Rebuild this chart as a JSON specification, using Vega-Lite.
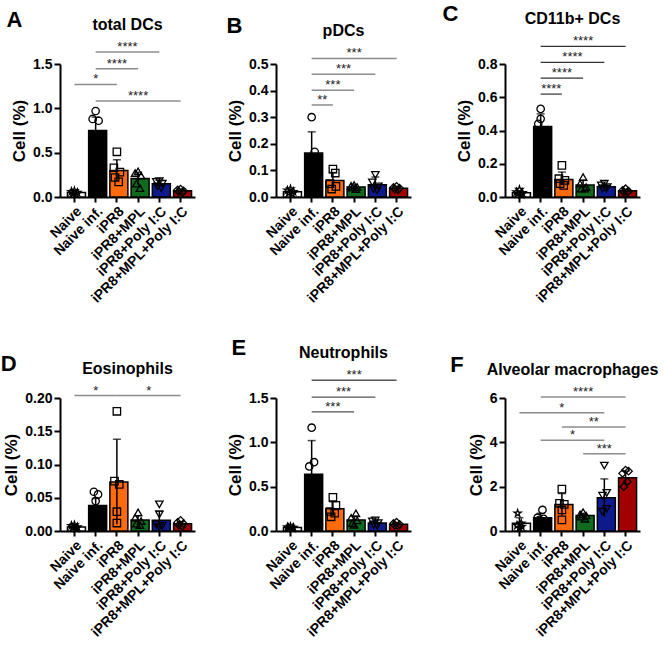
{
"$schema": "https://vega.github.io/schema/vega-lite/v6.json",
"padding": {"left": 0, "top": 3, "right": 0, "bottom": 0},
"background": "white",
"datasets": {
"bars": [
{"p":"A","g":"Naive","mean":0.05,"lo":0.03,"hi":0.07},
{"p":"A","g":"Naive inf.","mean":0.75,"lo":0.58,"hi":0.9},
{"p":"A","g":"iPR8","mean":0.30,"lo":0.18,"hi":0.42},
{"p":"A","g":"iPR8+MPL","mean":0.21,"lo":0.14,"hi":0.28},
{"p":"A","g":"iPR8+Poly I:C","mean":0.15,"lo":0.11,"hi":0.19},
{"p":"A","g":"iPR8+MPL+Poly I:C","mean":0.07,"lo":0.055,"hi":0.085},
{"p":"B","g":"Naive","mean":0.02,"lo":0.012,"hi":0.028},
{"p":"B","g":"Naive inf.","mean":0.165,"lo":0.085,"hi":0.245},
{"p":"B","g":"iPR8","mean":0.062,"lo":0.035,"hi":0.092},
{"p":"B","g":"iPR8+MPL","mean":0.038,"lo":0.03,"hi":0.046},
{"p":"B","g":"iPR8+Poly I:C","mean":0.046,"lo":0.022,"hi":0.075},
{"p":"B","g":"iPR8+MPL+Poly I:C","mean":0.033,"lo":0.027,"hi":0.039},
{"p":"C","g":"Naive","mean":0.025,"lo":0.015,"hi":0.035},
{"p":"C","g":"Naive inf.","mean":0.424,"lo":0.34,"hi":0.50},
{"p":"C","g":"iPR8","mean":0.105,"lo":0.07,"hi":0.15},
{"p":"C","g":"iPR8+MPL","mean":0.072,"lo":0.045,"hi":0.10},
{"p":"C","g":"iPR8+Poly I:C","mean":0.062,"lo":0.05,"hi":0.075},
{"p":"C","g":"iPR8+MPL+Poly I:C","mean":0.037,"lo":0.03,"hi":0.045},
{"p":"D","g":"Naive","mean":0.006,"lo":0.004,"hi":0.008},
{"p":"D","g":"Naive inf.","mean":0.0385,"lo":0.028,"hi":0.049},
{"p":"D","g":"iPR8","mean":0.0735,"lo":0.01,"hi":0.138},
{"p":"D","g":"iPR8+MPL","mean":0.0165,"lo":0.01,"hi":0.023},
{"p":"D","g":"iPR8+Poly I:C","mean":0.016,"lo":0.005,"hi":0.03},
{"p":"D","g":"iPR8+MPL+Poly I:C","mean":0.011,"lo":0.008,"hi":0.014},
{"p":"E","g":"Naive","mean":0.04,"lo":0.03,"hi":0.05},
{"p":"E","g":"Naive inf.","mean":0.64,"lo":0.26,"hi":1.02},
{"p":"E","g":"iPR8","mean":0.25,"lo":0.18,"hi":0.33},
{"p":"E","g":"iPR8+MPL","mean":0.125,"lo":0.08,"hi":0.17},
{"p":"E","g":"iPR8+Poly I:C","mean":0.09,"lo":0.06,"hi":0.12},
{"p":"E","g":"iPR8+MPL+Poly I:C","mean":0.075,"lo":0.06,"hi":0.09},
{"p":"F","g":"Naive","mean":0.35,"lo":0.1,"hi":0.6},
{"p":"F","g":"Naive inf.","mean":0.6,"lo":0.4,"hi":0.8},
{"p":"F","g":"iPR8","mean":1.2,"lo":0.7,"hi":1.69},
{"p":"F","g":"iPR8+MPL","mean":0.7,"lo":0.6,"hi":0.8},
{"p":"F","g":"iPR8+Poly I:C","mean":1.5,"lo":0.65,"hi":2.35},
{"p":"F","g":"iPR8+MPL+Poly I:C","mean":2.4,"lo":2.1,"hi":2.7}
],
"pts": [
{"p":"A","g":"Naive","v":0.07,"j":0},{"p":"A","g":"Naive","v":0.06,"j":-0.5},{"p":"A","g":"Naive","v":0.05,"j":0.5},{"p":"A","g":"Naive","v":0.04,"j":-0.3},{"p":"A","g":"Naive","v":0.03,"j":0.3},
{"p":"A","g":"Naive inf.","v":0.97,"j":0},{"p":"A","g":"Naive inf.","v":0.88,"j":-0.5},{"p":"A","g":"Naive inf.","v":0.86,"j":0.5},{"p":"A","g":"Naive inf.","v":0.53,"j":-0.3},{"p":"A","g":"Naive inf.","v":0.51,"j":0.3},
{"p":"A","g":"iPR8","v":0.51,"j":0},{"p":"A","g":"iPR8","v":0.33,"j":-0.5},{"p":"A","g":"iPR8","v":0.28,"j":0.5},{"p":"A","g":"iPR8","v":0.22,"j":-0.3},{"p":"A","g":"iPR8","v":0.17,"j":0.3},
{"p":"A","g":"iPR8+MPL","v":0.29,"j":0},{"p":"A","g":"iPR8+MPL","v":0.27,"j":-0.5},{"p":"A","g":"iPR8+MPL","v":0.24,"j":0.5},{"p":"A","g":"iPR8+MPL","v":0.15,"j":-0.3},{"p":"A","g":"iPR8+MPL","v":0.10,"j":0.3},
{"p":"A","g":"iPR8+Poly I:C","v":0.18,"j":0},{"p":"A","g":"iPR8+Poly I:C","v":0.17,"j":-0.5},{"p":"A","g":"iPR8+Poly I:C","v":0.15,"j":0.5},{"p":"A","g":"iPR8+Poly I:C","v":0.12,"j":-0.3},{"p":"A","g":"iPR8+Poly I:C","v":0.10,"j":0.3},
{"p":"A","g":"iPR8+MPL+Poly I:C","v":0.09,"j":0},{"p":"A","g":"iPR8+MPL+Poly I:C","v":0.08,"j":-0.5},{"p":"A","g":"iPR8+MPL+Poly I:C","v":0.07,"j":0.5},{"p":"A","g":"iPR8+MPL+Poly I:C","v":0.06,"j":-0.3},{"p":"A","g":"iPR8+MPL+Poly I:C","v":0.05,"j":0.3},
{"p":"B","g":"Naive","v":0.03,"j":0},{"p":"B","g":"Naive","v":0.025,"j":-0.5},{"p":"B","g":"Naive","v":0.02,"j":0.5},{"p":"B","g":"Naive","v":0.015,"j":-0.3},{"p":"B","g":"Naive","v":0.012,"j":0.3},
{"p":"B","g":"Naive inf.","v":0.30,"j":0},{"p":"B","g":"Naive inf.","v":0.17,"j":0.5},{"p":"B","g":"Naive inf.","v":0.13,"j":-0.5},{"p":"B","g":"Naive inf.","v":0.12,"j":-0.3},{"p":"B","g":"Naive inf.","v":0.105,"j":0.3},
{"p":"B","g":"iPR8","v":0.105,"j":0},{"p":"B","g":"iPR8","v":0.09,"j":0.4},{"p":"B","g":"iPR8","v":0.05,"j":-0.5},{"p":"B","g":"iPR8","v":0.04,"j":0.5},{"p":"B","g":"iPR8","v":0.03,"j":-0.2},
{"p":"B","g":"iPR8+MPL","v":0.045,"j":0},{"p":"B","g":"iPR8+MPL","v":0.042,"j":-0.5},{"p":"B","g":"iPR8+MPL","v":0.038,"j":0.5},{"p":"B","g":"iPR8+MPL","v":0.035,"j":-0.3},{"p":"B","g":"iPR8+MPL","v":0.03,"j":0.3},
{"p":"B","g":"iPR8+Poly I:C","v":0.083,"j":0},{"p":"B","g":"iPR8+Poly I:C","v":0.055,"j":-0.5},{"p":"B","g":"iPR8+Poly I:C","v":0.04,"j":0.5},{"p":"B","g":"iPR8+Poly I:C","v":0.03,"j":-0.3},{"p":"B","g":"iPR8+Poly I:C","v":0.025,"j":0.3},
{"p":"B","g":"iPR8+MPL+Poly I:C","v":0.04,"j":0},{"p":"B","g":"iPR8+MPL+Poly I:C","v":0.036,"j":-0.5},{"p":"B","g":"iPR8+MPL+Poly I:C","v":0.033,"j":0.5},{"p":"B","g":"iPR8+MPL+Poly I:C","v":0.03,"j":-0.3},{"p":"B","g":"iPR8+MPL+Poly I:C","v":0.027,"j":0.3},
{"p":"C","g":"Naive","v":0.045,"j":0},{"p":"C","g":"Naive","v":0.03,"j":-0.5},{"p":"C","g":"Naive","v":0.025,"j":0.5},{"p":"C","g":"Naive","v":0.02,"j":-0.3},{"p":"C","g":"Naive","v":0.015,"j":0.3},
{"p":"C","g":"Naive inf.","v":0.53,"j":0},{"p":"C","g":"Naive inf.","v":0.47,"j":0},{"p":"C","g":"Naive inf.","v":0.44,"j":-0.4},{"p":"C","g":"Naive inf.","v":0.36,"j":0.4},{"p":"C","g":"Naive inf.","v":0.32,"j":-0.2},
{"p":"C","g":"iPR8","v":0.19,"j":0},{"p":"C","g":"iPR8","v":0.11,"j":-0.5},{"p":"C","g":"iPR8","v":0.10,"j":0.5},{"p":"C","g":"iPR8","v":0.08,"j":-0.3},{"p":"C","g":"iPR8","v":0.07,"j":0.3},
{"p":"C","g":"iPR8+MPL","v":0.12,"j":0},{"p":"C","g":"iPR8+MPL","v":0.08,"j":-0.5},{"p":"C","g":"iPR8+MPL","v":0.06,"j":0.5},{"p":"C","g":"iPR8+MPL","v":0.05,"j":-0.3},{"p":"C","g":"iPR8+MPL","v":0.05,"j":0.3},
{"p":"C","g":"iPR8+Poly I:C","v":0.08,"j":0},{"p":"C","g":"iPR8+Poly I:C","v":0.07,"j":-0.5},{"p":"C","g":"iPR8+Poly I:C","v":0.06,"j":0.5},{"p":"C","g":"iPR8+Poly I:C","v":0.05,"j":-0.3},{"p":"C","g":"iPR8+Poly I:C","v":0.05,"j":0.3},
{"p":"C","g":"iPR8+MPL+Poly I:C","v":0.05,"j":0},{"p":"C","g":"iPR8+MPL+Poly I:C","v":0.04,"j":-0.5},{"p":"C","g":"iPR8+MPL+Poly I:C","v":0.035,"j":0.5},{"p":"C","g":"iPR8+MPL+Poly I:C","v":0.03,"j":-0.3},{"p":"C","g":"iPR8+MPL+Poly I:C","v":0.03,"j":0.3},
{"p":"D","g":"Naive","v":0.009,"j":0},{"p":"D","g":"Naive","v":0.008,"j":-0.5},{"p":"D","g":"Naive","v":0.006,"j":0.5},{"p":"D","g":"Naive","v":0.005,"j":-0.3},{"p":"D","g":"Naive","v":0.004,"j":0.3},
{"p":"D","g":"Naive inf.","v":0.059,"j":-0.3},{"p":"D","g":"Naive inf.","v":0.055,"j":0.4},{"p":"D","g":"Naive inf.","v":0.045,"j":0},{"p":"D","g":"Naive inf.","v":0.02,"j":-0.3},{"p":"D","g":"Naive inf.","v":0.014,"j":0.3},
{"p":"D","g":"iPR8","v":0.18,"j":0},{"p":"D","g":"iPR8","v":0.075,"j":-0.4},{"p":"D","g":"iPR8","v":0.07,"j":0.4},{"p":"D","g":"iPR8","v":0.029,"j":0},{"p":"D","g":"iPR8","v":0.012,"j":0},
{"p":"D","g":"iPR8+MPL","v":0.028,"j":0},{"p":"D","g":"iPR8+MPL","v":0.02,"j":-0.5},{"p":"D","g":"iPR8+MPL","v":0.015,"j":0.5},{"p":"D","g":"iPR8+MPL","v":0.011,"j":-0.3},{"p":"D","g":"iPR8+MPL","v":0.009,"j":0.3},
{"p":"D","g":"iPR8+Poly I:C","v":0.04,"j":0},{"p":"D","g":"iPR8+Poly I:C","v":0.025,"j":0},{"p":"D","g":"iPR8+Poly I:C","v":0.01,"j":-0.5},{"p":"D","g":"iPR8+Poly I:C","v":0.008,"j":0.5},{"p":"D","g":"iPR8+Poly I:C","v":0.006,"j":0},
{"p":"D","g":"iPR8+MPL+Poly I:C","v":0.016,"j":0},{"p":"D","g":"iPR8+MPL+Poly I:C","v":0.013,"j":-0.5},{"p":"D","g":"iPR8+MPL+Poly I:C","v":0.011,"j":0.5},{"p":"D","g":"iPR8+MPL+Poly I:C","v":0.009,"j":-0.3},{"p":"D","g":"iPR8+MPL+Poly I:C","v":0.007,"j":0.3},
{"p":"E","g":"Naive","v":0.05,"j":0},{"p":"E","g":"Naive","v":0.045,"j":-0.5},{"p":"E","g":"Naive","v":0.04,"j":0.5},{"p":"E","g":"Naive","v":0.035,"j":-0.3},{"p":"E","g":"Naive","v":0.03,"j":0.3},
{"p":"E","g":"Naive inf.","v":1.165,"j":0},{"p":"E","g":"Naive inf.","v":0.776,"j":0.4},{"p":"E","g":"Naive inf.","v":0.728,"j":-0.4},{"p":"E","g":"Naive inf.","v":0.30,"j":-0.2},{"p":"E","g":"Naive inf.","v":0.23,"j":0.2},
{"p":"E","g":"iPR8","v":0.38,"j":0},{"p":"E","g":"iPR8","v":0.29,"j":0.5},{"p":"E","g":"iPR8","v":0.22,"j":-0.5},{"p":"E","g":"iPR8","v":0.20,"j":0.3},{"p":"E","g":"iPR8","v":0.16,"j":-0.3},
{"p":"E","g":"iPR8+MPL","v":0.20,"j":0.3},{"p":"E","g":"iPR8+MPL","v":0.15,"j":-0.5},{"p":"E","g":"iPR8+MPL","v":0.12,"j":0.5},{"p":"E","g":"iPR8+MPL","v":0.09,"j":-0.3},{"p":"E","g":"iPR8+MPL","v":0.07,"j":0},
{"p":"E","g":"iPR8+Poly I:C","v":0.12,"j":0},{"p":"E","g":"iPR8+Poly I:C","v":0.11,"j":-0.5},{"p":"E","g":"iPR8+Poly I:C","v":0.09,"j":0.5},{"p":"E","g":"iPR8+Poly I:C","v":0.07,"j":-0.3},{"p":"E","g":"iPR8+Poly I:C","v":0.06,"j":0.3},
{"p":"E","g":"iPR8+MPL+Poly I:C","v":0.10,"j":0},{"p":"E","g":"iPR8+MPL+Poly I:C","v":0.085,"j":-0.5},{"p":"E","g":"iPR8+MPL+Poly I:C","v":0.075,"j":0.5},{"p":"E","g":"iPR8+MPL+Poly I:C","v":0.065,"j":-0.3},{"p":"E","g":"iPR8+MPL+Poly I:C","v":0.055,"j":0.3},
{"p":"F","g":"Naive","v":0.8,"j":-0.3},{"p":"F","g":"Naive","v":0.35,"j":0.3},{"p":"F","g":"Naive","v":0.25,"j":-0.4},{"p":"F","g":"Naive","v":0.2,"j":0.4},{"p":"F","g":"Naive","v":0.15,"j":0},
{"p":"F","g":"Naive inf.","v":0.95,"j":0.3},{"p":"F","g":"Naive inf.","v":0.6,"j":-0.5},{"p":"F","g":"Naive inf.","v":0.55,"j":0.5},{"p":"F","g":"Naive inf.","v":0.5,"j":-0.2},{"p":"F","g":"Naive inf.","v":0.45,"j":0.2},
{"p":"F","g":"iPR8","v":1.89,"j":0},{"p":"F","g":"iPR8","v":1.25,"j":-0.4},{"p":"F","g":"iPR8","v":1.2,"j":0.4},{"p":"F","g":"iPR8","v":0.95,"j":0},{"p":"F","g":"iPR8","v":0.5,"j":0},
{"p":"F","g":"iPR8+MPL","v":0.85,"j":0},{"p":"F","g":"iPR8+MPL","v":0.75,"j":-0.5},{"p":"F","g":"iPR8+MPL","v":0.7,"j":0.5},{"p":"F","g":"iPR8+MPL","v":0.65,"j":-0.3},{"p":"F","g":"iPR8+MPL","v":0.55,"j":0.3},
{"p":"F","g":"iPR8+Poly I:C","v":2.95,"j":0},{"p":"F","g":"iPR8+Poly I:C","v":1.72,"j":0.4},{"p":"F","g":"iPR8+Poly I:C","v":1.6,"j":-0.3},{"p":"F","g":"iPR8+Poly I:C","v":1.0,"j":0.4},{"p":"F","g":"iPR8+Poly I:C","v":0.87,"j":-0.3},
{"p":"F","g":"iPR8+MPL+Poly I:C","v":2.75,"j":0},{"p":"F","g":"iPR8+MPL+Poly I:C","v":2.7,"j":0.5},{"p":"F","g":"iPR8+MPL+Poly I:C","v":2.6,"j":-0.5},{"p":"F","g":"iPR8+MPL+Poly I:C","v":2.23,"j":0.3},{"p":"F","g":"iPR8+MPL+Poly I:C","v":2.0,"j":-0.3}
],
"sig": [
{"p":"A","a":"Naive inf.","b":"iPR8+Poly I:C","y":1.636,"s":"****","m":"iPR8","h":1},
{"p":"A","a":"Naive inf.","b":"iPR8+MPL","y":1.447,"s":"****","m":"iPR8","h":0},
{"p":"A","a":"Naive","b":"iPR8","y":1.27,"s":"*","m":"Naive inf.","h":0},
{"p":"A","a":"Naive inf.","b":"iPR8+MPL+Poly I:C","y":1.083,"s":"****","m":"iPR8+MPL","h":0},
{"p":"B","a":"Naive inf.","b":"iPR8+MPL+Poly I:C","y":0.521,"s":"***","m":"iPR8+MPL","h":0},
{"p":"B","a":"Naive inf.","b":"iPR8+Poly I:C","y":0.461,"s":"***","m":"iPR8","h":1},
{"p":"B","a":"Naive inf.","b":"iPR8+MPL","y":0.401,"s":"***","m":"iPR8","h":0},
{"p":"B","a":"Naive inf.","b":"iPR8","y":0.346,"s":"**","m":"Naive inf.","h":1},
{"p":"C","a":"Naive inf.","b":"iPR8+MPL+Poly I:C","y":0.906,"s":"****","m":"iPR8+MPL","h":0},
{"p":"C","a":"Naive inf.","b":"iPR8+Poly I:C","y":0.81,"s":"****","m":"iPR8","h":1},
{"p":"C","a":"Naive inf.","b":"iPR8+MPL","y":0.715,"s":"****","m":"iPR8","h":0},
{"p":"C","a":"Naive inf.","b":"iPR8","y":0.619,"s":"****","m":"Naive inf.","h":1},
{"p":"D","a":"Naive","b":"iPR8","y":0.2037,"s":"*","m":"Naive inf.","h":0},
{"p":"D","a":"iPR8","b":"iPR8+MPL+Poly I:C","y":0.2037,"s":"*","m":"iPR8+MPL","h":1},
{"p":"E","a":"Naive inf.","b":"iPR8+MPL+Poly I:C","y":1.70,"s":"***","m":"iPR8+MPL","h":0},
{"p":"E","a":"Naive inf.","b":"iPR8+Poly I:C","y":1.51,"s":"***","m":"iPR8","h":1},
{"p":"E","a":"Naive inf.","b":"iPR8+MPL","y":1.344,"s":"***","m":"iPR8","h":0},
{"p":"F","a":"Naive inf.","b":"iPR8+MPL+Poly I:C","y":6.05,"s":"****","m":"iPR8+MPL","h":0},
{"p":"F","a":"Naive","b":"iPR8+Poly I:C","y":5.33,"s":"*","m":"iPR8","h":0},
{"p":"F","a":"iPR8","b":"iPR8+MPL+Poly I:C","y":4.69,"s":"**","m":"iPR8+MPL","h":1},
{"p":"F","a":"Naive inf.","b":"iPR8+Poly I:C","y":4.09,"s":"*","m":"iPR8","h":1},
{"p":"F","a":"iPR8+MPL","b":"iPR8+MPL+Poly I:C","y":3.48,"s":"***","m":"iPR8+Poly I:C","h":0}
]
},
"columns": 3,
"align": "each",
"spacing": {"row": 31, "column": 31},
"concat": [
{"title": {"text": "A", "anchor": "start", "fontSize": 22, "offset": -15, "dx": -4},
 "vconcat": [{"width": 135, "height": 133, "title": "total DCs",
 "layer": [
  {"data": {"name": "bars"}, "transform": [{"filter": "datum.p=='A'"}], "mark": {"type": "bar", "stroke": "black", "strokeWidth": 1.5},
   "encoding": {"x": {"field": "g", "type": "nominal", "scale": {"domain": ["Naive","Naive inf.","iPR8","iPR8+MPL","iPR8+Poly I:C","iPR8+MPL+Poly I:C"]}, "axis": {"title": null}},
    "y": {"field": "mean", "type": "quantitative", "scale": {"domain": [0, 1.5], "nice": false}, "axis": {"values": [0, 0.5, 1, 1.5], "format": ".1f", "title": "Cell (%)"}},
    "color": {"field": "g", "type": "nominal", "scale": {"domain": ["Naive","Naive inf.","iPR8","iPR8+MPL","iPR8+Poly I:C","iPR8+MPL+Poly I:C"], "range": ["#ffffff","#000000","#ff6a0d","#0f6b1e","#0d1a8c","#a00000"]}, "legend": null}}},
  {"data": {"name": "bars"}, "transform": [{"filter": "datum.p=='A'"}], "mark": {"type": "rule", "color": "black", "strokeWidth": 1.5},
   "encoding": {"x": {"field": "g", "type": "nominal"}, "y": {"field": "lo", "type": "quantitative", "axis": {"values": [0, 0.5, 1, 1.5], "format": ".1f", "title": "Cell (%)"}}, "y2": {"field": "hi"}}},
  {"data": {"name": "bars"}, "transform": [{"filter": "datum.p=='A'"}], "mark": {"type": "tick", "color": "black", "thickness": 1.5, "size": 8},
   "encoding": {"x": {"field": "g", "type": "nominal"}, "y": {"field": "hi", "type": "quantitative", "axis": {"values": [0, 0.5, 1, 1.5], "format": ".1f", "title": "Cell (%)"}}}},
  {"data": {"name": "pts"}, "transform": [{"filter": "datum.p=='A'"}], "mark": {"type": "point", "filled": false, "color": "black", "strokeWidth": 1.3, "size": 55, "opacity": 1},
   "encoding": {"x": {"field": "g", "type": "nominal"}, "xOffset": {"field": "j", "type": "quantitative", "scale": {"domain": [-1, 1], "range": [1, 13]}}, "y": {"field": "v", "type": "quantitative", "axis": {"values": [0, 0.5, 1, 1.5], "format": ".1f", "title": "Cell (%)"}},
    "shape": {"field": "g", "type": "nominal", "scale": {"domain": ["Naive","Naive inf.","iPR8","iPR8+MPL","iPR8+Poly I:C","iPR8+MPL+Poly I:C"], "range": ["M0,-1L0.2245,-0.309L0.951,-0.309L0.363,0.118L0.588,0.809L0,0.382L-0.588,0.809L-0.363,0.118L-0.951,-0.309L-0.2245,-0.309Z","circle","square","triangle-up","triangle-down","diamond"]}, "legend": null}}},
  {"data": {"name": "sig"}, "transform": [{"filter": "datum.p=='A'"}], "mark": {"type": "rule", "color": "#8c8c8c", "strokeWidth": 1.5},
   "encoding": {"x": {"field": "a", "type": "nominal"}, "x2": {"field": "b"}, "y": {"field": "y", "type": "quantitative", "axis": {"values": [0, 0.5, 1, 1.5], "format": ".1f", "title": "Cell (%)"}}}},
  {"data": {"name": "sig"}, "transform": [{"filter": "datum.p=='A' && datum.h==0"}], "mark": {"type": "text", "fontSize": 13, "baseline": "alphabetic", "color": "#222", "dy": -1},
   "encoding": {"x": {"field": "m", "type": "nominal"}, "y": {"field": "y", "type": "quantitative", "axis": {"values": [0, 0.5, 1, 1.5], "format": ".1f", "title": "Cell (%)"}}, "text": {"field": "s"}}},
  {"data": {"name": "sig"}, "transform": [{"filter": "datum.p=='A' && datum.h==1"}], "mark": {"type": "text", "fontSize": 13, "baseline": "alphabetic", "color": "#222", "dy": -1, "dx": 10.6},
   "encoding": {"x": {"field": "m", "type": "nominal"}, "y": {"field": "y", "type": "quantitative", "axis": {"values": [0, 0.5, 1, 1.5], "format": ".1f", "title": "Cell (%)"}}, "text": {"field": "s"}}}
 ]}]},
{"title": {"text": "B", "anchor": "start", "fontSize": 22, "offset": -15, "dx": 0},
 "vconcat": [{"width": 135, "height": 133, "title": "pDCs",
 "layer": [
  {"data": {"name": "bars"}, "transform": [{"filter": "datum.p=='B'"}], "mark": {"type": "bar", "stroke": "black", "strokeWidth": 1.5},
   "encoding": {"x": {"field": "g", "type": "nominal", "scale": {"domain": ["Naive","Naive inf.","iPR8","iPR8+MPL","iPR8+Poly I:C","iPR8+MPL+Poly I:C"]}, "axis": {"title": null}},
    "y": {"field": "mean", "type": "quantitative", "scale": {"domain": [0, 0.5], "nice": false}, "axis": {"values": [0, 0.1, 0.2, 0.3, 0.4, 0.5], "format": ".1f", "title": "Cell (%)"}},
    "color": {"field": "g", "type": "nominal", "scale": {"domain": ["Naive","Naive inf.","iPR8","iPR8+MPL","iPR8+Poly I:C","iPR8+MPL+Poly I:C"], "range": ["#ffffff","#000000","#ff6a0d","#0f6b1e","#0d1a8c","#a00000"]}, "legend": null}}},
  {"data": {"name": "bars"}, "transform": [{"filter": "datum.p=='B'"}], "mark": {"type": "rule", "color": "black", "strokeWidth": 1.5},
   "encoding": {"x": {"field": "g", "type": "nominal"}, "y": {"field": "lo", "type": "quantitative", "axis": {"values": [0, 0.1, 0.2, 0.3, 0.4, 0.5], "format": ".1f", "title": "Cell (%)"}}, "y2": {"field": "hi"}}},
  {"data": {"name": "bars"}, "transform": [{"filter": "datum.p=='B'"}], "mark": {"type": "tick", "color": "black", "thickness": 1.5, "size": 8},
   "encoding": {"x": {"field": "g", "type": "nominal"}, "y": {"field": "hi", "type": "quantitative", "axis": {"values": [0, 0.1, 0.2, 0.3, 0.4, 0.5], "format": ".1f", "title": "Cell (%)"}}}},
  {"data": {"name": "pts"}, "transform": [{"filter": "datum.p=='B'"}], "mark": {"type": "point", "filled": false, "color": "black", "strokeWidth": 1.3, "size": 55, "opacity": 1},
   "encoding": {"x": {"field": "g", "type": "nominal"}, "xOffset": {"field": "j", "type": "quantitative", "scale": {"domain": [-1, 1], "range": [1, 13]}}, "y": {"field": "v", "type": "quantitative", "axis": {"values": [0, 0.1, 0.2, 0.3, 0.4, 0.5], "format": ".1f", "title": "Cell (%)"}},
    "shape": {"field": "g", "type": "nominal", "scale": {"domain": ["Naive","Naive inf.","iPR8","iPR8+MPL","iPR8+Poly I:C","iPR8+MPL+Poly I:C"], "range": ["M0,-1L0.2245,-0.309L0.951,-0.309L0.363,0.118L0.588,0.809L0,0.382L-0.588,0.809L-0.363,0.118L-0.951,-0.309L-0.2245,-0.309Z","circle","square","triangle-up","triangle-down","diamond"]}, "legend": null}}},
  {"data": {"name": "sig"}, "transform": [{"filter": "datum.p=='B'"}], "mark": {"type": "rule", "color": "#8c8c8c", "strokeWidth": 1.5},
   "encoding": {"x": {"field": "a", "type": "nominal"}, "x2": {"field": "b"}, "y": {"field": "y", "type": "quantitative", "axis": {"values": [0, 0.1, 0.2, 0.3, 0.4, 0.5], "format": ".1f", "title": "Cell (%)"}}}},
  {"data": {"name": "sig"}, "transform": [{"filter": "datum.p=='B' && datum.h==0"}], "mark": {"type": "text", "fontSize": 13, "baseline": "alphabetic", "color": "#222", "dy": -1},
   "encoding": {"x": {"field": "m", "type": "nominal"}, "y": {"field": "y", "type": "quantitative", "axis": {"values": [0, 0.1, 0.2, 0.3, 0.4, 0.5], "format": ".1f", "title": "Cell (%)"}}, "text": {"field": "s"}}},
  {"data": {"name": "sig"}, "transform": [{"filter": "datum.p=='B' && datum.h==1"}], "mark": {"type": "text", "fontSize": 13, "baseline": "alphabetic", "color": "#222", "dy": -1, "dx": 10.6},
   "encoding": {"x": {"field": "m", "type": "nominal"}, "y": {"field": "y", "type": "quantitative", "axis": {"values": [0, 0.1, 0.2, 0.3, 0.4, 0.5], "format": ".1f", "title": "Cell (%)"}}, "text": {"field": "s"}}}
 ]}]},
{"title": {"text": "C", "anchor": "start", "fontSize": 22, "offset": -15, "dx": -13},
 "vconcat": [{"width": 135, "height": 133, "title": "CD11b+ DCs",
 "layer": [
  {"data": {"name": "bars"}, "transform": [{"filter": "datum.p=='C'"}], "mark": {"type": "bar", "stroke": "black", "strokeWidth": 1.5},
   "encoding": {"x": {"field": "g", "type": "nominal", "scale": {"domain": ["Naive","Naive inf.","iPR8","iPR8+MPL","iPR8+Poly I:C","iPR8+MPL+Poly I:C"]}, "axis": {"title": null}},
    "y": {"field": "mean", "type": "quantitative", "scale": {"domain": [0, 0.8], "nice": false}, "axis": {"values": [0, 0.2, 0.4, 0.6, 0.8], "format": ".1f", "title": "Cell (%)"}},
    "color": {"field": "g", "type": "nominal", "scale": {"domain": ["Naive","Naive inf.","iPR8","iPR8+MPL","iPR8+Poly I:C","iPR8+MPL+Poly I:C"], "range": ["#ffffff","#000000","#ff6a0d","#0f6b1e","#0d1a8c","#a00000"]}, "legend": null}}},
  {"data": {"name": "bars"}, "transform": [{"filter": "datum.p=='C'"}], "mark": {"type": "rule", "color": "black", "strokeWidth": 1.5},
   "encoding": {"x": {"field": "g", "type": "nominal"}, "y": {"field": "lo", "type": "quantitative", "axis": {"values": [0, 0.2, 0.4, 0.6, 0.8], "format": ".1f", "title": "Cell (%)"}}, "y2": {"field": "hi"}}},
  {"data": {"name": "bars"}, "transform": [{"filter": "datum.p=='C'"}], "mark": {"type": "tick", "color": "black", "thickness": 1.5, "size": 8},
   "encoding": {"x": {"field": "g", "type": "nominal"}, "y": {"field": "hi", "type": "quantitative", "axis": {"values": [0, 0.2, 0.4, 0.6, 0.8], "format": ".1f", "title": "Cell (%)"}}}},
  {"data": {"name": "pts"}, "transform": [{"filter": "datum.p=='C'"}], "mark": {"type": "point", "filled": false, "color": "black", "strokeWidth": 1.3, "size": 55, "opacity": 1},
   "encoding": {"x": {"field": "g", "type": "nominal"}, "xOffset": {"field": "j", "type": "quantitative", "scale": {"domain": [-1, 1], "range": [1, 13]}}, "y": {"field": "v", "type": "quantitative", "axis": {"values": [0, 0.2, 0.4, 0.6, 0.8], "format": ".1f", "title": "Cell (%)"}},
    "shape": {"field": "g", "type": "nominal", "scale": {"domain": ["Naive","Naive inf.","iPR8","iPR8+MPL","iPR8+Poly I:C","iPR8+MPL+Poly I:C"], "range": ["M0,-1L0.2245,-0.309L0.951,-0.309L0.363,0.118L0.588,0.809L0,0.382L-0.588,0.809L-0.363,0.118L-0.951,-0.309L-0.2245,-0.309Z","circle","square","triangle-up","triangle-down","diamond"]}, "legend": null}}},
  {"data": {"name": "sig"}, "transform": [{"filter": "datum.p=='C'"}], "mark": {"type": "rule", "color": "#333333", "strokeWidth": 1.2},
   "encoding": {"x": {"field": "a", "type": "nominal"}, "x2": {"field": "b"}, "y": {"field": "y", "type": "quantitative", "axis": {"values": [0, 0.2, 0.4, 0.6, 0.8], "format": ".1f", "title": "Cell (%)"}}}},
  {"data": {"name": "sig"}, "transform": [{"filter": "datum.p=='C' && datum.h==0"}], "mark": {"type": "text", "fontSize": 13, "baseline": "alphabetic", "color": "#222", "dy": -1},
   "encoding": {"x": {"field": "m", "type": "nominal"}, "y": {"field": "y", "type": "quantitative", "axis": {"values": [0, 0.2, 0.4, 0.6, 0.8], "format": ".1f", "title": "Cell (%)"}}, "text": {"field": "s"}}},
  {"data": {"name": "sig"}, "transform": [{"filter": "datum.p=='C' && datum.h==1"}], "mark": {"type": "text", "fontSize": 13, "baseline": "alphabetic", "color": "#222", "dy": -1, "dx": 10.6},
   "encoding": {"x": {"field": "m", "type": "nominal"}, "y": {"field": "y", "type": "quantitative", "axis": {"values": [0, 0.2, 0.4, 0.6, 0.8], "format": ".1f", "title": "Cell (%)"}}, "text": {"field": "s"}}}
 ]}]},
{"title": {"text": "D", "anchor": "start", "fontSize": 22, "offset": -15, "dx": -2},
 "vconcat": [{"width": 135, "height": 133, "title": "Eosinophils",
 "layer": [
  {"data": {"name": "bars"}, "transform": [{"filter": "datum.p=='D'"}], "mark": {"type": "bar", "stroke": "black", "strokeWidth": 1.5},
   "encoding": {"x": {"field": "g", "type": "nominal", "scale": {"domain": ["Naive","Naive inf.","iPR8","iPR8+MPL","iPR8+Poly I:C","iPR8+MPL+Poly I:C"]}, "axis": {"title": null}},
    "y": {"field": "mean", "type": "quantitative", "scale": {"domain": [0, 0.2], "nice": false}, "axis": {"values": [0, 0.05, 0.1, 0.15, 0.2], "format": ".2f", "title": "Cell (%)"}},
    "color": {"field": "g", "type": "nominal", "scale": {"domain": ["Naive","Naive inf.","iPR8","iPR8+MPL","iPR8+Poly I:C","iPR8+MPL+Poly I:C"], "range": ["#ffffff","#000000","#ff6a0d","#0f6b1e","#0d1a8c","#a00000"]}, "legend": null}}},
  {"data": {"name": "bars"}, "transform": [{"filter": "datum.p=='D'"}], "mark": {"type": "rule", "color": "black", "strokeWidth": 1.5},
   "encoding": {"x": {"field": "g", "type": "nominal"}, "y": {"field": "lo", "type": "quantitative", "axis": {"values": [0, 0.05, 0.1, 0.15, 0.2], "format": ".2f", "title": "Cell (%)"}}, "y2": {"field": "hi"}}},
  {"data": {"name": "bars"}, "transform": [{"filter": "datum.p=='D'"}], "mark": {"type": "tick", "color": "black", "thickness": 1.5, "size": 8},
   "encoding": {"x": {"field": "g", "type": "nominal"}, "y": {"field": "hi", "type": "quantitative", "axis": {"values": [0, 0.05, 0.1, 0.15, 0.2], "format": ".2f", "title": "Cell (%)"}}}},
  {"data": {"name": "pts"}, "transform": [{"filter": "datum.p=='D'"}], "mark": {"type": "point", "filled": false, "color": "black", "strokeWidth": 1.3, "size": 55, "opacity": 1},
   "encoding": {"x": {"field": "g", "type": "nominal"}, "xOffset": {"field": "j", "type": "quantitative", "scale": {"domain": [-1, 1], "range": [1, 13]}}, "y": {"field": "v", "type": "quantitative", "axis": {"values": [0, 0.05, 0.1, 0.15, 0.2], "format": ".2f", "title": "Cell (%)"}},
    "shape": {"field": "g", "type": "nominal", "scale": {"domain": ["Naive","Naive inf.","iPR8","iPR8+MPL","iPR8+Poly I:C","iPR8+MPL+Poly I:C"], "range": ["M0,-1L0.2245,-0.309L0.951,-0.309L0.363,0.118L0.588,0.809L0,0.382L-0.588,0.809L-0.363,0.118L-0.951,-0.309L-0.2245,-0.309Z","circle","square","triangle-up","triangle-down","diamond"]}, "legend": null}}},
  {"data": {"name": "sig"}, "transform": [{"filter": "datum.p=='D'"}], "mark": {"type": "rule", "color": "#8c8c8c", "strokeWidth": 1.5},
   "encoding": {"x": {"field": "a", "type": "nominal"}, "x2": {"field": "b"}, "y": {"field": "y", "type": "quantitative", "axis": {"values": [0, 0.05, 0.1, 0.15, 0.2], "format": ".2f", "title": "Cell (%)"}}}},
  {"data": {"name": "sig"}, "transform": [{"filter": "datum.p=='D' && datum.h==0"}], "mark": {"type": "text", "fontSize": 13, "baseline": "alphabetic", "color": "#222", "dy": -1},
   "encoding": {"x": {"field": "m", "type": "nominal"}, "y": {"field": "y", "type": "quantitative", "axis": {"values": [0, 0.05, 0.1, 0.15, 0.2], "format": ".2f", "title": "Cell (%)"}}, "text": {"field": "s"}}},
  {"data": {"name": "sig"}, "transform": [{"filter": "datum.p=='D' && datum.h==1"}], "mark": {"type": "text", "fontSize": 13, "baseline": "alphabetic", "color": "#222", "dy": -1, "dx": 10.6},
   "encoding": {"x": {"field": "m", "type": "nominal"}, "y": {"field": "y", "type": "quantitative", "axis": {"values": [0, 0.05, 0.1, 0.15, 0.2], "format": ".2f", "title": "Cell (%)"}}, "text": {"field": "s"}}}
 ]}]},
{"title": {"text": "E", "anchor": "start", "fontSize": 22, "offset": -15, "dx": 5},
 "vconcat": [{"width": 135, "height": 133, "title": "Neutrophils",
 "layer": [
  {"data": {"name": "bars"}, "transform": [{"filter": "datum.p=='E'"}], "mark": {"type": "bar", "stroke": "black", "strokeWidth": 1.5},
   "encoding": {"x": {"field": "g", "type": "nominal", "scale": {"domain": ["Naive","Naive inf.","iPR8","iPR8+MPL","iPR8+Poly I:C","iPR8+MPL+Poly I:C"]}, "axis": {"title": null}},
    "y": {"field": "mean", "type": "quantitative", "scale": {"domain": [0, 1.5], "nice": false}, "axis": {"values": [0, 0.5, 1, 1.5], "format": ".1f", "title": "Cell (%)"}},
    "color": {"field": "g", "type": "nominal", "scale": {"domain": ["Naive","Naive inf.","iPR8","iPR8+MPL","iPR8+Poly I:C","iPR8+MPL+Poly I:C"], "range": ["#ffffff","#000000","#ff6a0d","#0f6b1e","#0d1a8c","#a00000"]}, "legend": null}}},
  {"data": {"name": "bars"}, "transform": [{"filter": "datum.p=='E'"}], "mark": {"type": "rule", "color": "black", "strokeWidth": 1.5},
   "encoding": {"x": {"field": "g", "type": "nominal"}, "y": {"field": "lo", "type": "quantitative", "axis": {"values": [0, 0.5, 1, 1.5], "format": ".1f", "title": "Cell (%)"}}, "y2": {"field": "hi"}}},
  {"data": {"name": "bars"}, "transform": [{"filter": "datum.p=='E'"}], "mark": {"type": "tick", "color": "black", "thickness": 1.5, "size": 8},
   "encoding": {"x": {"field": "g", "type": "nominal"}, "y": {"field": "hi", "type": "quantitative", "axis": {"values": [0, 0.5, 1, 1.5], "format": ".1f", "title": "Cell (%)"}}}},
  {"data": {"name": "pts"}, "transform": [{"filter": "datum.p=='E'"}], "mark": {"type": "point", "filled": false, "color": "black", "strokeWidth": 1.3, "size": 55, "opacity": 1},
   "encoding": {"x": {"field": "g", "type": "nominal"}, "xOffset": {"field": "j", "type": "quantitative", "scale": {"domain": [-1, 1], "range": [1, 13]}}, "y": {"field": "v", "type": "quantitative", "axis": {"values": [0, 0.5, 1, 1.5], "format": ".1f", "title": "Cell (%)"}},
    "shape": {"field": "g", "type": "nominal", "scale": {"domain": ["Naive","Naive inf.","iPR8","iPR8+MPL","iPR8+Poly I:C","iPR8+MPL+Poly I:C"], "range": ["M0,-1L0.2245,-0.309L0.951,-0.309L0.363,0.118L0.588,0.809L0,0.382L-0.588,0.809L-0.363,0.118L-0.951,-0.309L-0.2245,-0.309Z","circle","square","triangle-up","triangle-down","diamond"]}, "legend": null}}},
  {"data": {"name": "sig"}, "transform": [{"filter": "datum.p=='E'"}], "mark": {"type": "rule", "color": "#555555", "strokeWidth": 1.3},
   "encoding": {"x": {"field": "a", "type": "nominal"}, "x2": {"field": "b"}, "y": {"field": "y", "type": "quantitative", "axis": {"values": [0, 0.5, 1, 1.5], "format": ".1f", "title": "Cell (%)"}}}},
  {"data": {"name": "sig"}, "transform": [{"filter": "datum.p=='E' && datum.h==0"}], "mark": {"type": "text", "fontSize": 13, "baseline": "alphabetic", "color": "#222", "dy": -1},
   "encoding": {"x": {"field": "m", "type": "nominal"}, "y": {"field": "y", "type": "quantitative", "axis": {"values": [0, 0.5, 1, 1.5], "format": ".1f", "title": "Cell (%)"}}, "text": {"field": "s"}}},
  {"data": {"name": "sig"}, "transform": [{"filter": "datum.p=='E' && datum.h==1"}], "mark": {"type": "text", "fontSize": 13, "baseline": "alphabetic", "color": "#222", "dy": -1, "dx": 10.6},
   "encoding": {"x": {"field": "m", "type": "nominal"}, "y": {"field": "y", "type": "quantitative", "axis": {"values": [0, 0.5, 1, 1.5], "format": ".1f", "title": "Cell (%)"}}, "text": {"field": "s"}}}
 ]}]},
{"title": {"text": "F", "anchor": "start", "fontSize": 22, "offset": -15, "dx": -17},
 "vconcat": [{"width": 135, "height": 133, "title": "Alveolar macrophages",
 "layer": [
  {"data": {"name": "bars"}, "transform": [{"filter": "datum.p=='F'"}], "mark": {"type": "bar", "stroke": "black", "strokeWidth": 1.5},
   "encoding": {"x": {"field": "g", "type": "nominal", "scale": {"domain": ["Naive","Naive inf.","iPR8","iPR8+MPL","iPR8+Poly I:C","iPR8+MPL+Poly I:C"]}, "axis": {"title": null}},
    "y": {"field": "mean", "type": "quantitative", "scale": {"domain": [0, 6], "nice": false}, "axis": {"values": [0, 2, 4, 6], "format": "d", "title": "Cell (%)"}},
    "color": {"field": "g", "type": "nominal", "scale": {"domain": ["Naive","Naive inf.","iPR8","iPR8+MPL","iPR8+Poly I:C","iPR8+MPL+Poly I:C"], "range": ["#ffffff","#000000","#ff6a0d","#0f6b1e","#0d1a8c","#a00000"]}, "legend": null}}},
  {"data": {"name": "bars"}, "transform": [{"filter": "datum.p=='F'"}], "mark": {"type": "rule", "color": "black", "strokeWidth": 1.5},
   "encoding": {"x": {"field": "g", "type": "nominal"}, "y": {"field": "lo", "type": "quantitative", "axis": {"values": [0, 2, 4, 6], "format": "d", "title": "Cell (%)"}}, "y2": {"field": "hi"}}},
  {"data": {"name": "bars"}, "transform": [{"filter": "datum.p=='F'"}], "mark": {"type": "tick", "color": "black", "thickness": 1.5, "size": 8},
   "encoding": {"x": {"field": "g", "type": "nominal"}, "y": {"field": "hi", "type": "quantitative", "axis": {"values": [0, 2, 4, 6], "format": "d", "title": "Cell (%)"}}}},
  {"data": {"name": "pts"}, "transform": [{"filter": "datum.p=='F'"}], "mark": {"type": "point", "filled": false, "color": "black", "strokeWidth": 1.3, "size": 55, "opacity": 1},
   "encoding": {"x": {"field": "g", "type": "nominal"}, "xOffset": {"field": "j", "type": "quantitative", "scale": {"domain": [-1, 1], "range": [1, 13]}}, "y": {"field": "v", "type": "quantitative", "axis": {"values": [0, 2, 4, 6], "format": "d", "title": "Cell (%)"}},
    "shape": {"field": "g", "type": "nominal", "scale": {"domain": ["Naive","Naive inf.","iPR8","iPR8+MPL","iPR8+Poly I:C","iPR8+MPL+Poly I:C"], "range": ["M0,-1L0.2245,-0.309L0.951,-0.309L0.363,0.118L0.588,0.809L0,0.382L-0.588,0.809L-0.363,0.118L-0.951,-0.309L-0.2245,-0.309Z","circle","square","triangle-up","triangle-down","diamond"]}, "legend": null}}},
  {"data": {"name": "sig"}, "transform": [{"filter": "datum.p=='F'"}], "mark": {"type": "rule", "color": "#8c8c8c", "strokeWidth": 1.5},
   "encoding": {"x": {"field": "a", "type": "nominal"}, "x2": {"field": "b"}, "y": {"field": "y", "type": "quantitative", "axis": {"values": [0, 2, 4, 6], "format": "d", "title": "Cell (%)"}}}},
  {"data": {"name": "sig"}, "transform": [{"filter": "datum.p=='F' && datum.h==0"}], "mark": {"type": "text", "fontSize": 13, "baseline": "alphabetic", "color": "#222", "dy": -1},
   "encoding": {"x": {"field": "m", "type": "nominal"}, "y": {"field": "y", "type": "quantitative", "axis": {"values": [0, 2, 4, 6], "format": "d", "title": "Cell (%)"}}, "text": {"field": "s"}}},
  {"data": {"name": "sig"}, "transform": [{"filter": "datum.p=='F' && datum.h==1"}], "mark": {"type": "text", "fontSize": 13, "baseline": "alphabetic", "color": "#222", "dy": -1, "dx": 10.6},
   "encoding": {"x": {"field": "m", "type": "nominal"}, "y": {"field": "y", "type": "quantitative", "axis": {"values": [0, 2, 4, 6], "format": "d", "title": "Cell (%)"}}, "text": {"field": "s"}}}
 ]}]}
],
"config": {
 "font": "Liberation Sans",
 "view": {"stroke": null},
 "axis": {"labelFont": "Liberation Sans", "labelFontWeight": "bold", "labelFontSize": 14, "labelColor": "black", "domainColor": "black", "domainWidth": 2, "tickColor": "black", "tickWidth": 2, "tickSize": 6, "titleFont": "Liberation Sans", "titleFontWeight": "bold", "titleFontSize": 17, "titleColor": "black", "grid": false, "labelPadding": 2, "titlePadding": 4, "labelOverlap": false},
 "axisX": {"labelAngle": -45, "labelFontSize": 14, "tickSize": 5},
 "title": {"font": "Liberation Sans", "fontWeight": "bold", "fontSize": 16, "color": "black", "offset": 8},
 "scale": {"bandPaddingInner": 0.34, "bandPaddingOuter": 0.35}
}
}
